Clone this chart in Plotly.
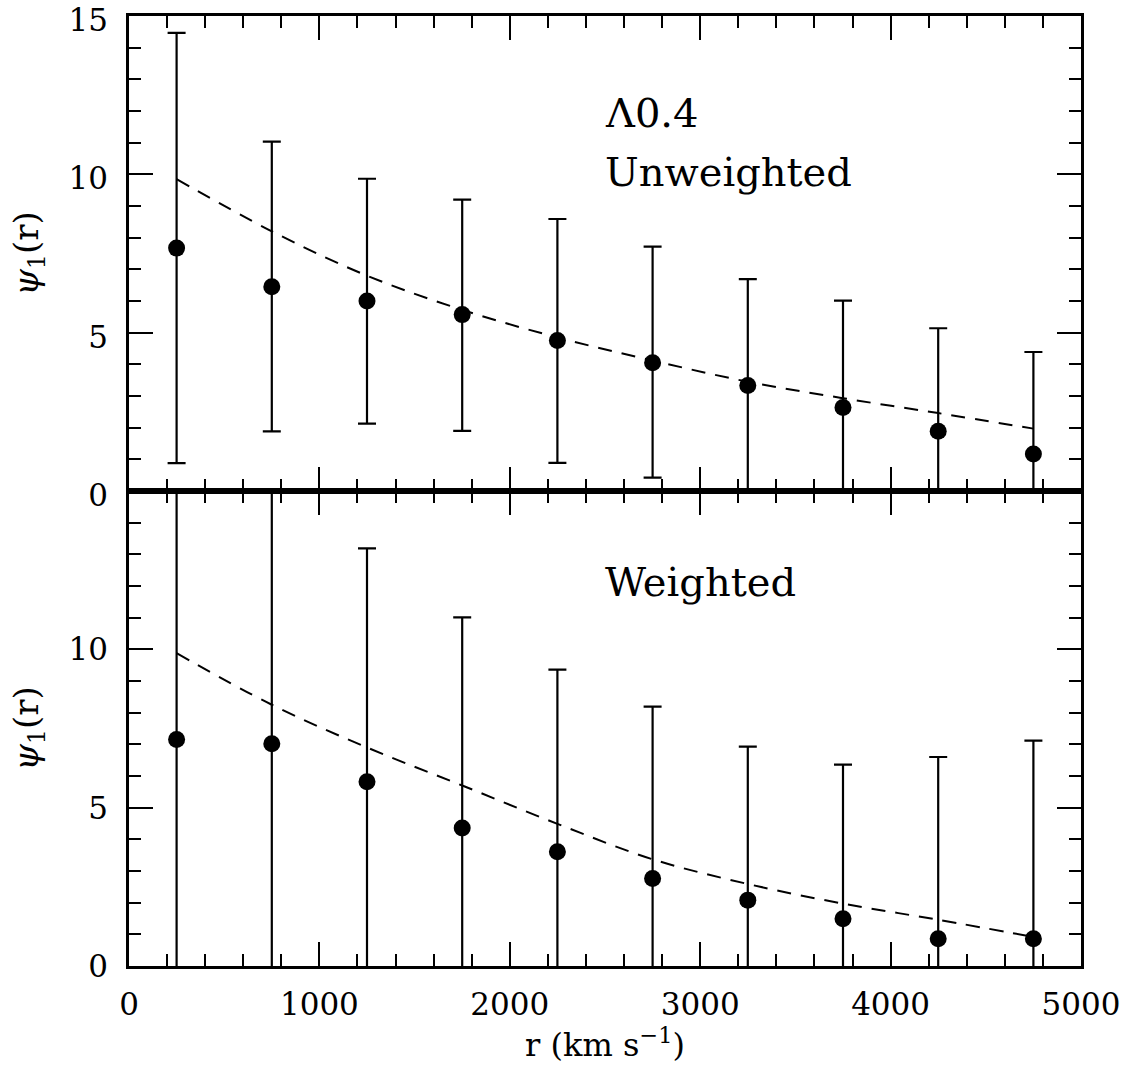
import plotly.graph_objects as go
from plotly.subplots import make_subplots

# ---- data ----
r = [250, 750, 1250, 1750, 2250, 2750, 3250, 3750, 4250, 4750]

# Top panel: Unweighted
unw_psi = [7.67, 6.45, 6.00, 5.57, 4.75, 4.05, 3.33, 2.64, 1.89, 1.17]
unw_err_plus = [6.80, 4.58, 3.86, 3.63, 3.84, 3.67, 3.36, 3.37, 3.25, 3.22]
unw_err_minus = [6.79, 4.57, 3.87, 3.67, 3.86, 3.63, 3.36, 3.37, 3.25, 3.22]
unw_model = [9.85, 8.20, 6.80, 5.72, 4.85, 4.12, 3.45, 2.93, 2.46, 1.97]

# Bottom panel: Weighted
w_psi = [7.15, 7.02, 5.82, 4.36, 3.61, 2.76, 2.08, 1.49, 0.86, 0.86]
w_err_plus = [9.5, 10.5, 7.37, 6.65, 5.75, 5.43, 4.85, 4.87, 5.74, 6.26]
w_model = [9.88, 8.25, 6.90, 5.70, 4.49, 3.37, 2.59, 1.97, 1.46, 0.92]

x_ticks = [0, 1000, 2000, 3000, 4000, 5000]
y_ticks_top = [0, 5, 10, 15]
y_ticks_bottom = [0, 5, 10]

FONT = "DejaVu Serif"

fig = make_subplots(rows=2, cols=1, shared_xaxes=True, vertical_spacing=0)

# dashed model curves
fig.add_trace(go.Scatter(x=r, y=unw_model, mode="lines", line_shape="spline",
                         line=dict(color="black", width=2, dash="14px,10px"),
                         showlegend=False), row=1, col=1)
fig.add_trace(go.Scatter(x=r, y=w_model, mode="lines", line_shape="spline",
                         line=dict(color="black", width=2, dash="14px,10px"),
                         showlegend=False), row=2, col=1)

# points with error bars
fig.add_trace(go.Scatter(x=r, y=unw_psi, mode="markers",
                         marker=dict(color="black", size=17),
                         error_y=dict(type="data", array=unw_err_plus, arrayminus=unw_err_minus,
                                      color="black", thickness=2.2, width=9),
                         showlegend=False), row=1, col=1)
fig.add_trace(go.Scatter(x=r, y=w_psi, mode="markers",
                         marker=dict(color="black", size=17),
                         error_y=dict(type="data", array=w_err_plus, symmetric=True,
                                      color="black", thickness=2.2, width=9),
                         showlegend=False), row=2, col=1)

axis_common = dict(showline=True, linecolor="black", linewidth=2.5, mirror="allticks",
                   ticks="inside", tickcolor="black", tickwidth=2, ticklen=24,
                   showgrid=False, zeroline=False, automargin=False,
                   ticklabeloverflow="allow",
                   tickfont=dict(family=FONT, size=31, color="black"))

fig.update_xaxes(range=[0, 5000], tickvals=x_ticks,
                 minor=dict(ticks="inside", dtick=200, tick0=0, ticklen=12,
                            tickwidth=2, tickcolor="black", showgrid=False),
                 **axis_common)
fig.update_xaxes(showticklabels=False, row=1, col=1)
fig.update_xaxes(showticklabels=True, ticklabelstandoff=9,
                 title=dict(text="r (km s<sup>−1</sup>)", font=dict(family=FONT, size=32, color="black"),
                            standoff=13),
                 row=2, col=1)

fig.update_yaxes(minor=dict(ticks="inside", dtick=1, tick0=0, ticklen=12,
                            tickwidth=2, tickcolor="black", showgrid=False),
                 ticklabelstandoff=12,
                 title=dict(text="<i>ψ</i><sub>1</sub>(r)", font=dict(family=FONT, size=34, color="black"),
                            standoff=20),
                 **axis_common)
fig.update_yaxes(range=[0, 15.0001], tickvals=y_ticks_top, ticklabelshift=4, row=1, col=1)
fig.update_yaxes(range=[0, 15], tickvals=y_ticks_bottom, row=2, col=1)

fig.add_annotation(text="Λ0.4", xref="x", yref="y", x=2490, y=11.94,
                   xanchor="left", yanchor="middle", showarrow=False, align="left",
                   font=dict(family=FONT, size=40, color="black"))
fig.add_annotation(text="Unweighted", xref="x", yref="y", x=2490, y=10.07,
                   xanchor="left", yanchor="middle", showarrow=False, align="left",
                   font=dict(family=FONT, size=40, color="black"))
fig.add_annotation(text="Weighted", xref="x2", yref="y2", x=2490, y=12.12,
                   xanchor="left", yanchor="middle", showarrow=False, align="left",
                   font=dict(family=FONT, size=40, color="black"))

fig.update_layout(width=1136, height=1074, plot_bgcolor="white", paper_bgcolor="white",
                  margin=dict(l=129, r=55, t=16, b=108), showlegend=False)

fig.write_html("out.html", config={"displayModeBar": False},
               post_script="document.body.style.margin='0';document.body.style.overflow='hidden';")
